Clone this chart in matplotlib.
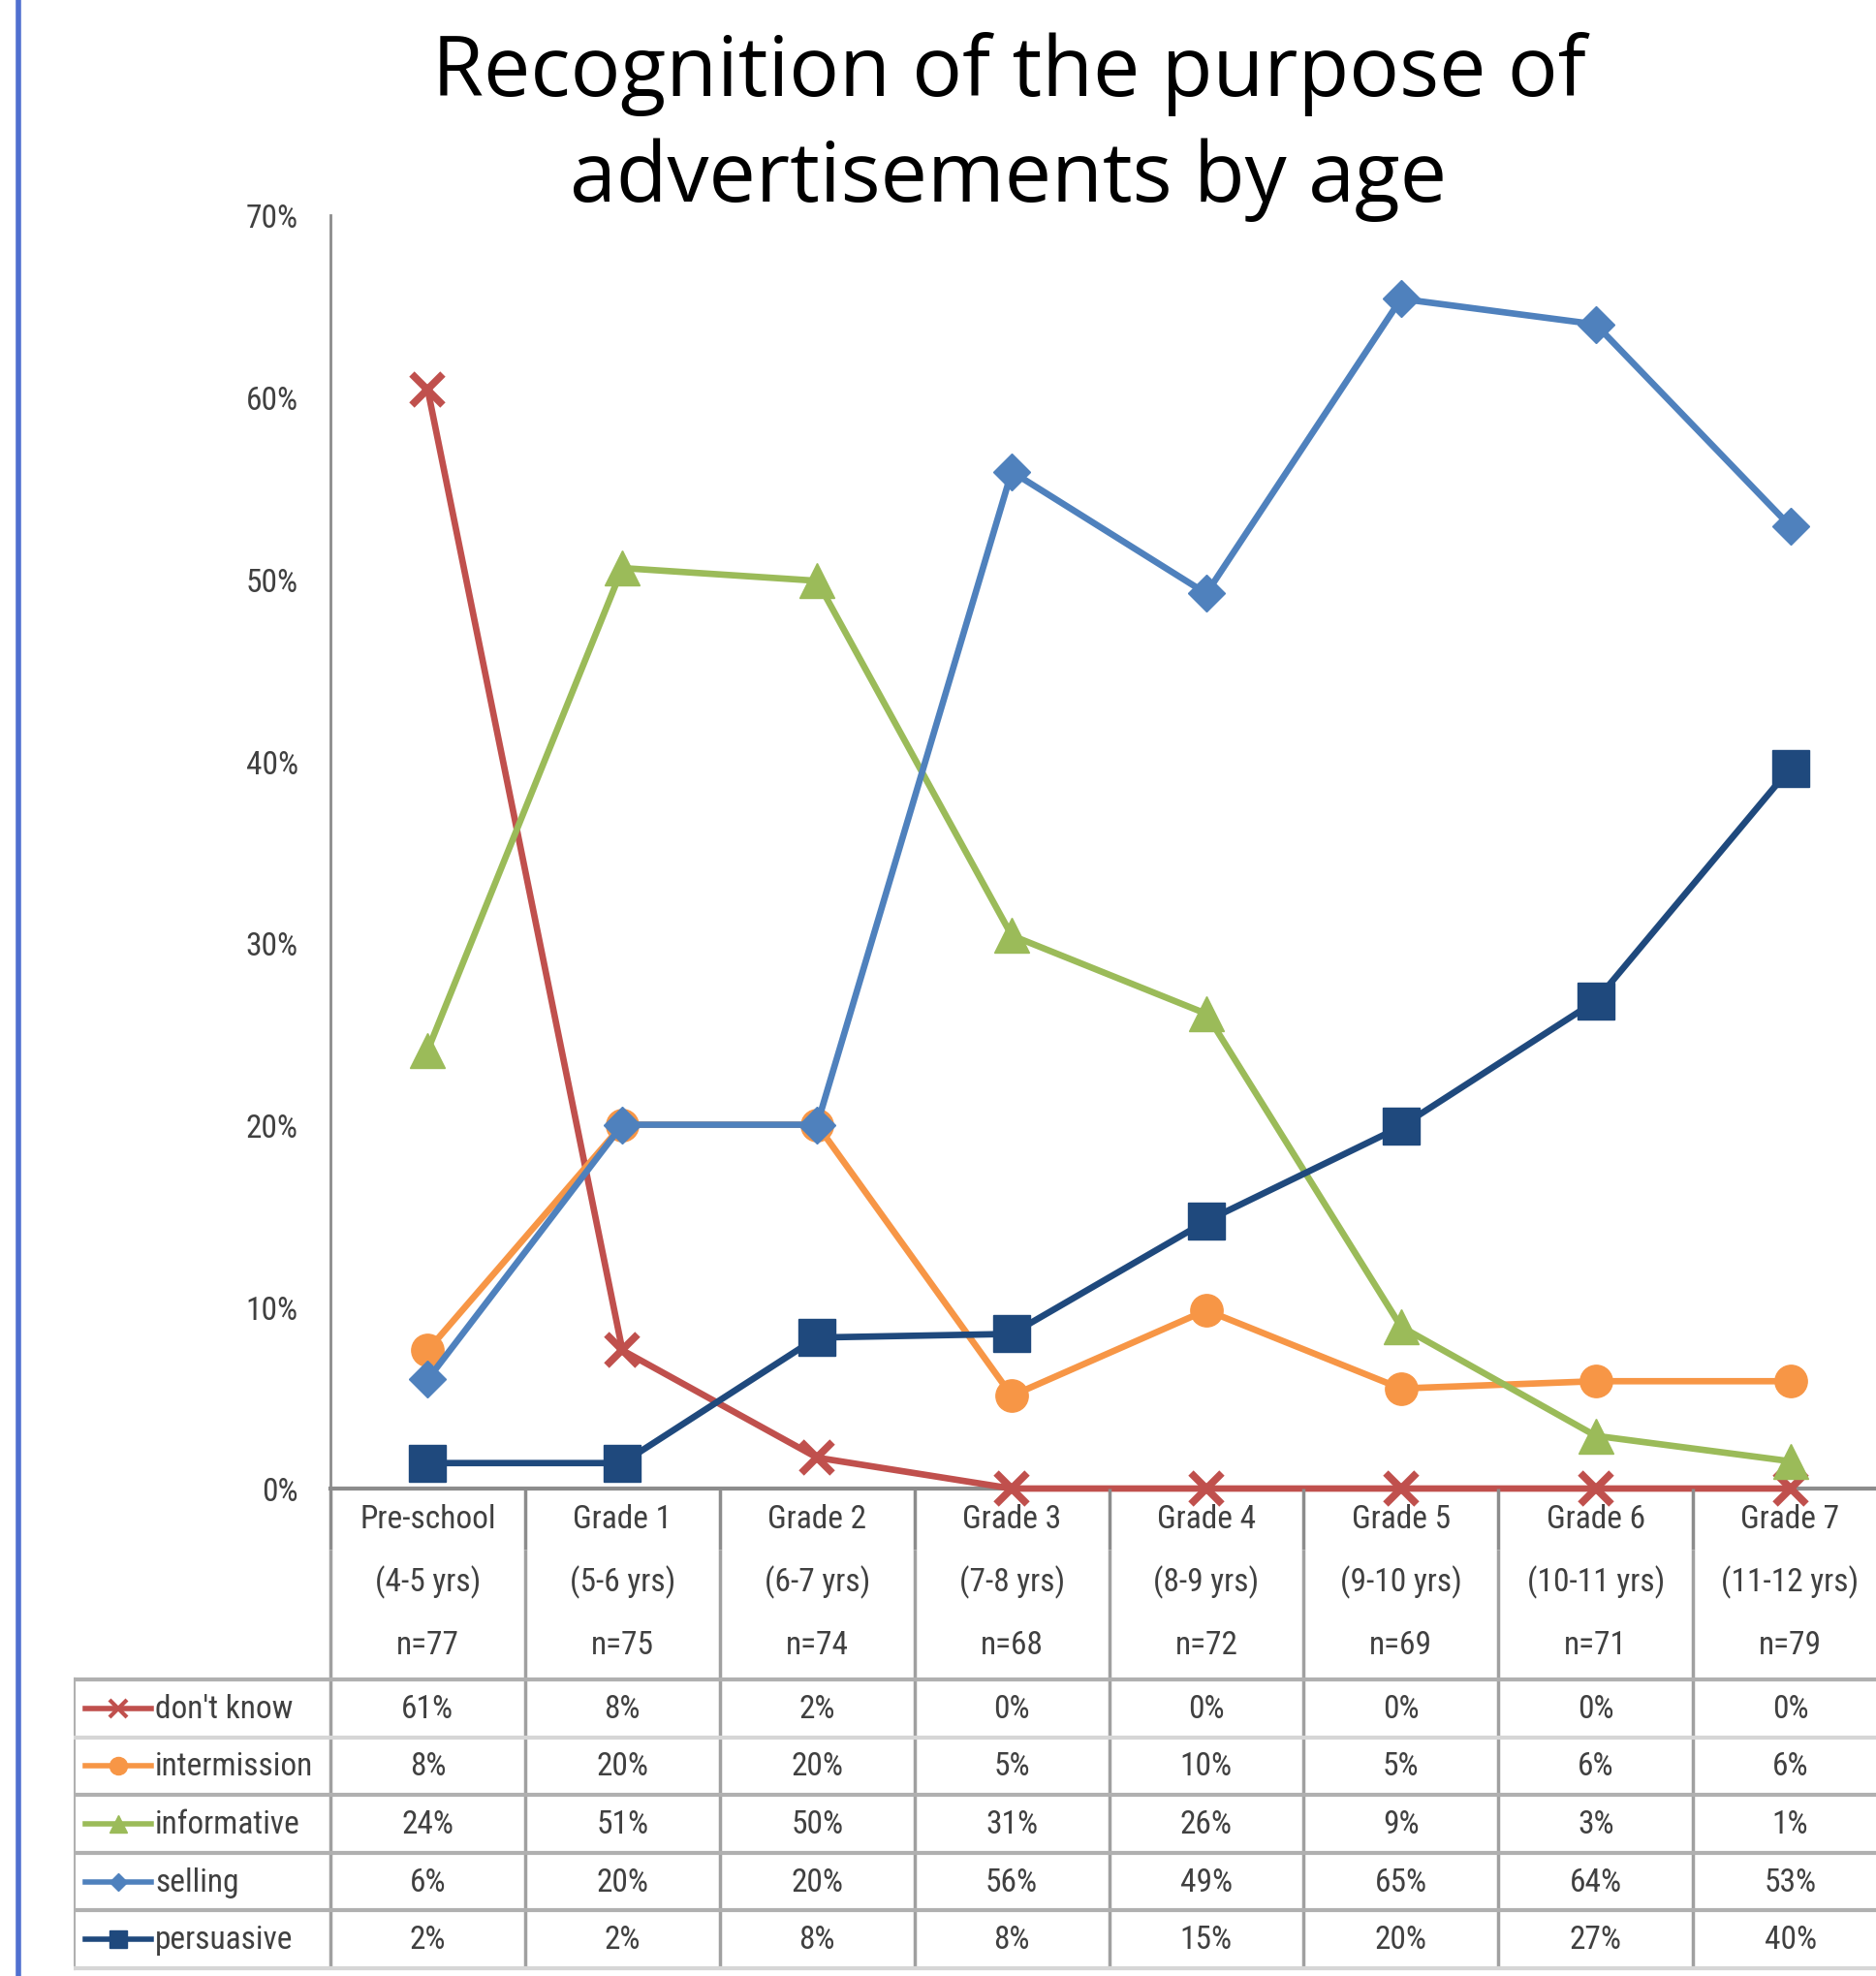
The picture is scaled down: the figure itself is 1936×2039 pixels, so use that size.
import matplotlib
matplotlib.use('Agg')
import matplotlib.pyplot as plt
from matplotlib import font_manager
from matplotlib.lines import Line2D

# data
categories = ['Pre-school', 'Grade 1', 'Grade 2', 'Grade 3', 'Grade 4', 'Grade 5', 'Grade 6', 'Grade 7']
ages = ['(4-5 yrs)', '(5-6 yrs)', '(6-7 yrs)', '(7-8 yrs)', '(8-9 yrs)', '(9-10 yrs)', '(10-11 yrs)', '(11-12 yrs)']
sizes = ['n=77', 'n=75', 'n=74', 'n=68', 'n=72', 'n=69', 'n=71', 'n=79']

series_names = ["don't know", 'intermission', 'informative', 'selling', 'persuasive']
dont_know = [60.4, 7.6, 1.7, 0, 0, 0, 0, 0]
intermission = [7.6, 20.0, 20.0, 5.1, 9.8, 5.5, 5.9, 5.9]
informative = [24.1, 50.6, 49.9, 30.4, 26.1, 8.9, 2.9, 1.5]
selling = [6.0, 20.0, 20.0, 55.9, 49.2, 65.4, 64.0, 52.9]
persuasive = [1.4, 1.4, 8.3, 8.5, 14.7, 19.9, 26.8, 39.6]

dont_know_txt = ['61%', '8%', '2%', '0%', '0%', '0%', '0%', '0%']
intermission_txt = ['8%', '20%', '20%', '5%', '10%', '5%', '6%', '6%']
informative_txt = ['24%', '51%', '50%', '31%', '26%', '9%', '3%', '1%']
selling_txt = ['6%', '20%', '20%', '56%', '49%', '65%', '64%', '53%']
persuasive_txt = ['2%', '2%', '8%', '8%', '15%', '20%', '27%', '40%']

yticks = [0, 10, 20, 30, 40, 50, 60, 70]

# styles
colors = ['#C0504D', '#F79646', '#9BBB59', '#4F81BD', '#1F497D']
markers = ['x', 'o', '^', 'D', 's']
msizes = [23, 24, 26, 19, 27]
mews = [5.5, 1, 1, 1, 1]


def pick_font(names):
    for n in names:
        try:
            font_manager.findfont(n, fallback_to_default=False)
            return n
        except Exception:
            pass
    return 'DejaVu Sans'


narrow = pick_font(['Liberation Sans Narrow', 'Roboto Condensed', 'Roboto'])
title_font = pick_font(['Open Sans', 'Noto Sans'])
plt.rcParams['font.family'] = [narrow, 'DejaVu Sans']

W, H = 1936, 2040
fig = plt.figure(figsize=(W / 100, H / 100), dpi=100)

x0, x1 = 341, 1948          # plot left / right (px)
y70, y0 = 223, 1537         # 70% and 0% (px)
colw = (x1 - x0) / 8
fs = 24
tcol = '#404040'


def px2x(px):
    return -0.5 + (px - x0) / colw


ax = fig.add_axes([x0 / W, 1 - y0 / H, (x1 - x0) / W, (y0 - y70) / H])
ax.set_xlim(-0.5, 7.5)
ax.set_ylim(0, 70)
for s in ['top', 'right']:
    ax.spines[s].set_visible(False)
ax.spines['left'].set_color('#8c8c8c')
ax.spines['left'].set_linewidth(2)
ax.spines['bottom'].set_color('#8c8c8c')
ax.spines['bottom'].set_linewidth(3)
ax.set_xticks([])
ax.set_yticks(yticks)
ax.set_yticklabels([f'{v}%' for v in yticks], fontsize=fs, color=tcol)
ax.tick_params(axis='y', length=0, pad=24)

all_series = [dont_know, intermission, informative, selling, persuasive]
x = list(range(len(categories)))
for vals, c, m, ms, mw in zip(all_series, colors, markers, msizes, mews):
    ax.plot(x, vals, color=c, lw=4.8, marker=m, markersize=ms, markeredgewidth=mw,
            markeredgecolor=c, markerfacecolor=c, clip_on=False, zorder=3)

fig.text(1041 / W, 1 - 76 / H, 'Recognition of the purpose of', ha='center', va='center',
         fontsize=62, color='black', family=title_font)
fig.text(1041 / W, 1 - 186 / H, 'advertisements by age', ha='center', va='center',
         fontsize=62, color='black', family=title_font)

# table below the plot
tab_left = 76
tax = fig.add_axes([tab_left / W, 0, (x1 - tab_left) / W, (H - y0) / H])
tax.set_xlim(px2x(tab_left), 7.5)
tax.set_ylim(H - y0, 0)
tax.axis('off')

head_y = [31, 96, 161]
row_top = 197
row_h = 59.6
nrows = len(series_names)

for i in range(len(categories)):
    tax.text(i, head_y[0], categories[i], ha='center', va='center', fontsize=fs, color=tcol)
    tax.text(i, head_y[1], ages[i], ha='center', va='center', fontsize=fs, color=tcol)
    tax.text(i, head_y[2], sizes[i], ha='center', va='center', fontsize=fs, color=tcol)

for k in range(len(categories) + 1):
    tax.plot([k - 0.5, k - 0.5], [0, 63], color='#8c8c8c', lw=2.5, solid_capstyle='butt')
    tax.plot([k - 0.5, k - 0.5], [63, row_top + nrows * row_h], color='#a0a0a0', lw=2.5,
             solid_capstyle='butt')
tax.plot([px2x(tab_left), px2x(tab_left)], [row_top, row_top + nrows * row_h],
         color='#b0b0b0', lw=3)
for r in range(nrows + 1):
    lc = '#d6d6d6' if r in (1, 5) else '#b0b0b0'
    tax.plot([px2x(tab_left), 7.5], [row_top + r * row_h] * 2, color=lc, lw=3)

table_txt = [dont_know_txt, intermission_txt, informative_txt, selling_txt, persuasive_txt]
for r, (name, txts, c, m) in enumerate(zip(series_names, table_txt, colors, markers)):
    yc = row_top + (r + 0.5) * row_h
    tax.plot([px2x(88), px2x(156)], [yc, yc], color=c, lw=4)
    tax.plot([px2x(122)], [yc], marker=m, color=c, markersize=13 if m != 'D' else 9,
             markeredgewidth=3 if m == 'x' else 1)
    tax.text(px2x(160), yc, name, ha='left', va='center', fontsize=fs, color=tcol)
    for i, t in enumerate(txts):
        tax.text(i, yc, t, ha='center', va='center', fontsize=fs, color=tcol)

# blue bar at the far left
fig.add_artist(Line2D([19 / W, 19 / W], [0, 1], color='#5070D0', lw=4))

fig.savefig('out.png', dpi=100)
